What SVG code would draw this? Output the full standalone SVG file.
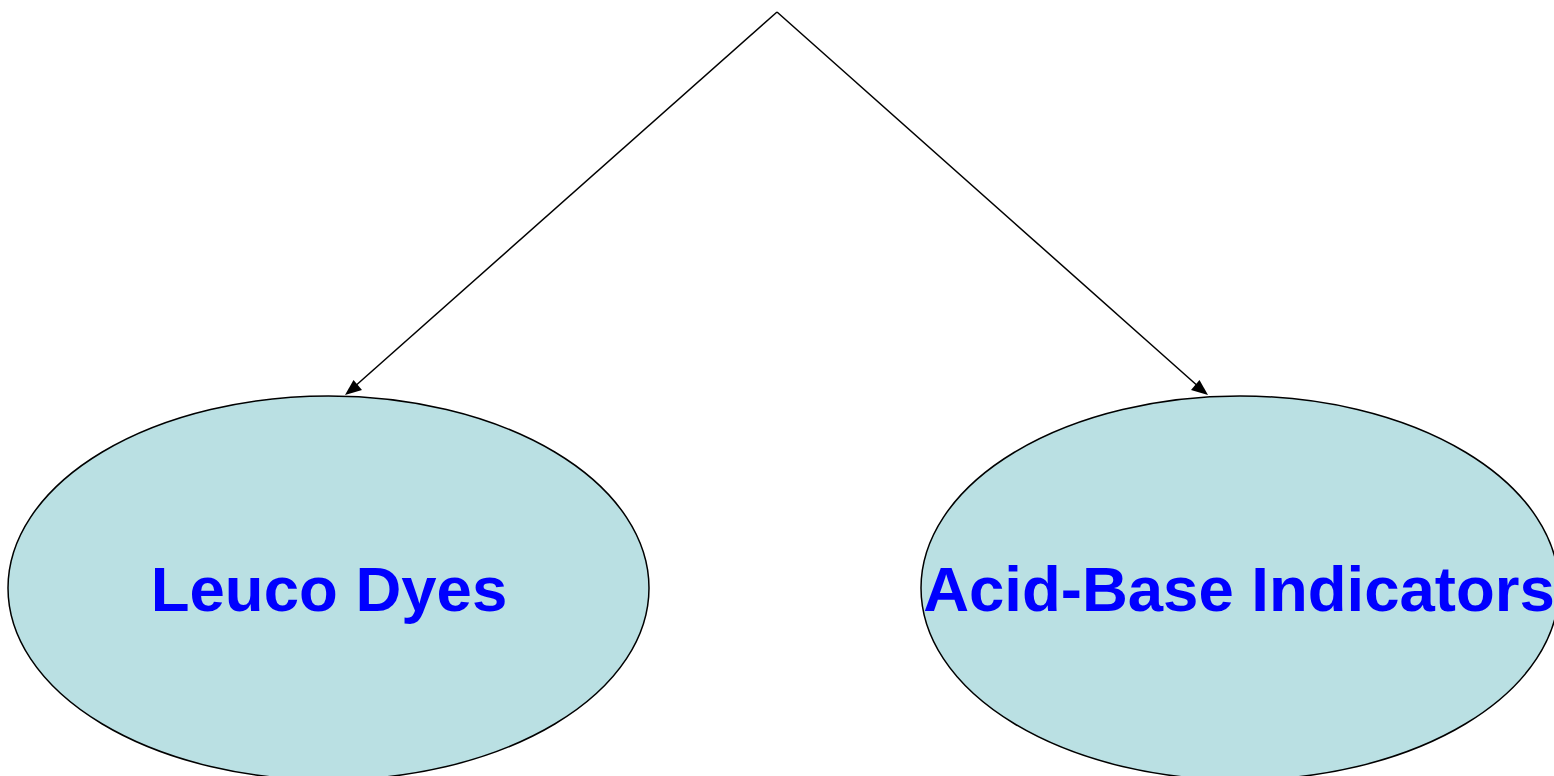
<svg xmlns="http://www.w3.org/2000/svg" width="1554" height="776" viewBox="0 0 1554 776">
  <style>
    .node ellipse { fill: #bae0e3; stroke: #000; stroke-width: 1.5; }
    .node text { font-family: "Liberation Sans", Arial, sans-serif; font-weight: bold; font-size: 63.5px; fill: #0000ff; text-anchor: middle; }
    .edge { stroke: #000; stroke-width: 1.5; fill: none; }
    .head { fill: #000; }
  </style>
  <rect width="1554" height="776" fill="#fff"/>
  <g id="connectors">
    <path class="edge" d="M777,12 L353,388"/>
    <path class="edge" d="M777,12 L1200,388"/>
    <polygon class="head" points="345,395 353.5,380 362,390"/>
    <polygon class="head" points="1208,395 1191,390 1199.5,380"/>
  </g>
  <g id="leuco-dyes" class="node">
    <ellipse cx="328.5" cy="588" rx="320.5" ry="192"/>
    <text x="329" y="611">Leuco Dyes</text>
  </g>
  <g id="acid-base-indicators" class="node">
    <ellipse cx="1240" cy="588" rx="319" ry="192"/>
    <text x="1239" y="611">Acid-Base Indicators</text>
  </g>
</svg>
